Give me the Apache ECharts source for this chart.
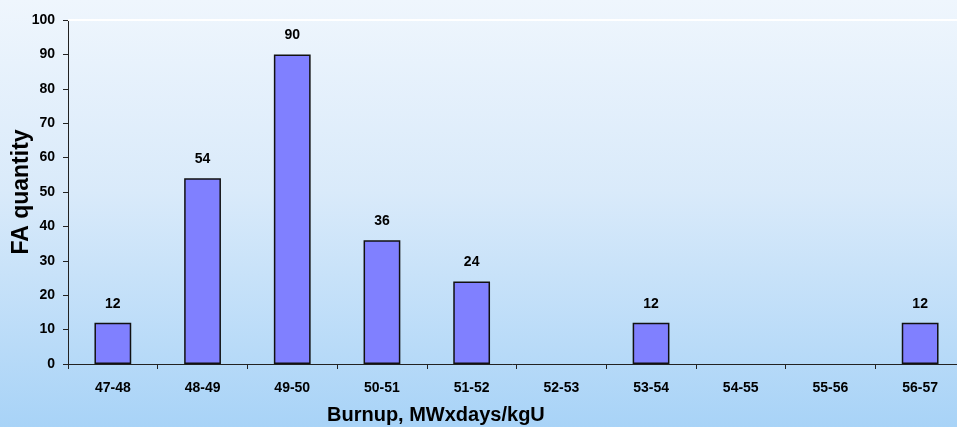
<!DOCTYPE html>
<html><head><meta charset="utf-8">
<script src="https://cdn.jsdelivr.net/npm/echarts@6/dist/echarts.min.js"></script>
<style>
html,body{margin:0;padding:0;overflow:hidden;}
#c{width:957px;height:427px;background:linear-gradient(to bottom,#eff6fd 0%,#d9eafa 45%,#a8d3f7 100%);}
</style></head>
<body><div id="c"></div>
<script>
const categories = ['47-48','48-49','49-50','50-51','51-52','52-53','53-54','54-55','55-56','56-57'];
const quantities = [12,54,90,36,24,0,12,0,0,12];
const yTicks = {min:0, max:100, interval:10};
const xTitle = 'Burnup, MWxdays/kgU';
const yTitle = 'FA quantity';

const chart = echarts.init(document.getElementById('c'), null, {renderer:'canvas'});
const font = 'Liberation Sans, Arial, sans-serif';
chart.setOption({
  animation:false,
  backgroundColor:'transparent',
  title:{text:xTitle,left:322,top:400,textStyle:{fontFamily:font,fontWeight:'bold',fontSize:20,color:'#000'}},
  grid:{left:68,top:20,right:-8,bottom:63,containLabel:false,outerBoundsMode:'none'},
  xAxis:{type:'category',data:categories,
    axisLine:{lineStyle:{color:'#222',width:1}},
    axisTick:{show:true,length:5,lineStyle:{color:'#222'}},
    axisLabel:{fontFamily:font,fontWeight:'bold',fontSize:14,color:'#000',margin:17,interval:0},
    splitLine:{show:false}},
  yAxis:{type:'value',min:yTicks.min,max:yTicks.max,interval:yTicks.interval,
    name:yTitle,nameLocation:'middle',nameGap:35,nameMoveOverlap:false,
    nameTextStyle:{fontFamily:font,fontWeight:'bold',fontSize:23,color:'#000'},
    axisLine:{show:true,lineStyle:{color:'#222',width:1}},
    axisTick:{show:true,length:5,lineStyle:{color:'#222'}},
    axisLabel:{fontFamily:font,fontWeight:'bold',fontSize:14,color:'#000',margin:13},
    splitLine:{show:false}},
  series:[{type:'bar',data:quantities.map(v=>v===0?null:v),barWidth:'41%',
    itemStyle:{color:'#8080ff',borderColor:'#111',borderWidth:1.5},
    label:{show:true,position:'top',distance:12,fontFamily:font,fontWeight:'bold',fontSize:14,color:'#000'},
    markLine:{silent:true,symbol:'none',label:{show:false},lineStyle:{color:'#fff',width:2,type:'solid'},data:[{yAxis:yTicks.max}]}
  }]
});
</script></body></html>
